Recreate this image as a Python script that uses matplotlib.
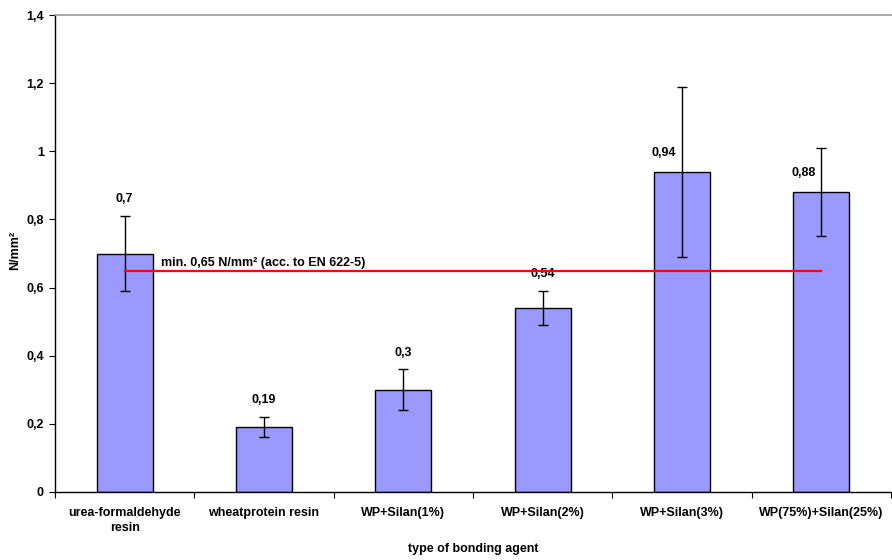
import matplotlib
matplotlib.use("Agg")
import matplotlib.pyplot as plt
from matplotlib.ticker import MultipleLocator, FuncFormatter

plt.rcParams['font.family'] = ['Liberation Sans', 'DejaVu Sans']
plt.rcParams['font.weight'] = 'bold'
plt.rcParams['axes.labelweight'] = 'bold'

# data
agents = ['urea-formaldehyde\nresin', 'wheatprotein resin', 'WP+Silan(1%)',
          'WP+Silan(2%)', 'WP+Silan(3%)', 'WP(75%)+Silan(25%)']
strength = [0.70, 0.19, 0.30, 0.54, 0.94, 0.88]
errors = [0.11, 0.03, 0.06, 0.05, 0.25, 0.13]
value_labels = ['0,7', '0,19', '0,3', '0,54', '0,94', '0,88']
min_value = 0.65
min_label = 'min. 0,65 N/mm² (acc. to EN 622-5)'

FS = 9

fig = plt.figure(figsize=(8.92, 5.6), dpi=100)
ax = fig.add_axes([55 / 892, 1 - 492 / 560, 836 / 892, 477 / 560])

x = list(range(len(agents)))
ax.bar(x, strength, width=0.4, color='#9999FF', edgecolor='black', linewidth=1.0, zorder=2)
ax.errorbar(x, strength, yerr=errors, fmt='none', ecolor='black', elinewidth=1.0,
            capsize=3.5, capthick=1.0, zorder=3)

for i in x:
    if errors[i] > 0.12:
        # big error bar: Excel pushes the label to the left of it
        ax.annotate(value_labels[i], (i, strength[i]), xytext=(-13, 13.5),
                    textcoords='offset points', ha='center', va='center', fontsize=FS)
    else:
        ax.annotate(value_labels[i], (i, strength[i] + errors[i]), xytext=(0, 12),
                    textcoords='offset points', ha='center', va='center', fontsize=FS)

ax.plot([x[0], x[-1]], [min_value, min_value], color='red', lw=1.6, zorder=4)
ax.annotate(min_label, (x[0], min_value), xytext=(26, 5.5), textcoords='offset points',
            ha='left', va='center', fontsize=FS)

ax.set_xlim(-0.5, len(agents) - 0.5)
ax.set_ylim(0, 1.4)
ax.yaxis.set_major_locator(MultipleLocator(0.2))
ax.yaxis.set_major_formatter(FuncFormatter(
    lambda v, p: '0' if abs(v) < 1e-9 else ('%g' % round(v, 1)).replace('.', ',')))

ax.set_xticks([i - 0.5 for i in range(len(agents) + 1)])
ax.set_xticklabels([])
ax.set_xticks(x, minor=True)
ax.set_xticklabels(agents, minor=True, fontsize=FS, linespacing=1.3)
ax.tick_params(axis='x', which='minor', length=0, pad=11)
ax.tick_params(axis='x', which='major', direction='out', length=4, width=0.8)
ax.tick_params(axis='y', direction='out', length=4, width=0.8, labelsize=FS, pad=4)

ax.spines['right'].set_visible(False)
ax.spines['top'].set_color('#999999')
ax.spines['top'].set_linewidth(1.2)
ax.spines['left'].set_linewidth(1.0)
ax.spines['bottom'].set_linewidth(1.0)

ax.set_ylabel('N/mm²', fontsize=FS, va='center')
ax.yaxis.set_label_coords(-40 / 836, 242 / 477)
ax.set_xlabel('type of bonding agent', fontsize=FS, va='center')
ax.xaxis.set_label_coords(0.5, -57 / 477)

fig.savefig('out.png', dpi=100)
